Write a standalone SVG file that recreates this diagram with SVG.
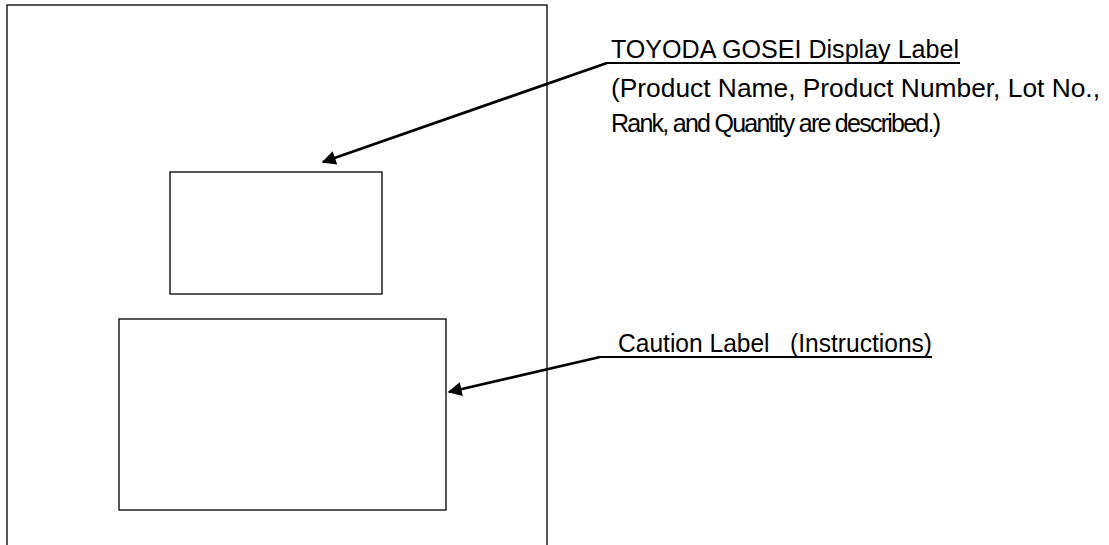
<svg xmlns="http://www.w3.org/2000/svg" width="1109" height="545" viewBox="0 0 1109 545">
<defs>
<style>
.box{fill:#fff;stroke:#111;stroke-width:1.4}
.lbl{font-family:"Liberation Sans",Arial,sans-serif;font-size:26px;fill:#000}
.lead{stroke:#000;stroke-width:2.2;fill:none}
.arr{stroke:#000;stroke-width:2.8;fill:none;marker-end:url(#ah)}
</style>
<marker id="ah" viewBox="0 0 10 10" refX="9" refY="5" markerWidth="6.5" markerHeight="5" markerUnits="strokeWidth" orient="auto">
<path d="M0,0 L10,5 L0,10 z" fill="#000"/>
</marker>
</defs>
<rect width="1109" height="545" fill="#fff"/>
<g id="package"><rect class="box" x="7" y="5" width="540" height="560"/></g>
<g id="display-label-box"><rect class="box" x="170" y="172" width="212" height="122"/></g>
<g id="caution-label-box"><rect class="box" x="119" y="319" width="327" height="191"/></g>
<g id="display-label-text">
<text class="lbl" x="611" y="58" textLength="348" lengthAdjust="spacingAndGlyphs">TOYODA GOSEI Display Label</text>
<text class="lbl" x="611" y="97" textLength="489" lengthAdjust="spacingAndGlyphs">(Product Name, Product Number, Lot No.,</text>
<text class="lbl" x="611" y="132" style="font-size:25px" textLength="330" lengthAdjust="spacing">Rank, and Quantity are described.)</text>
</g>
<g id="caution-label-text">
<text class="lbl" x="618" y="352" textLength="314" lengthAdjust="spacingAndGlyphs" xml:space="preserve">Caution Label   (Instructions)</text>
</g>
<g id="connectors">
<line class="lead" x1="606" y1="63" x2="960" y2="63"/>
<line class="lead" x1="599" y1="357" x2="932" y2="357"/>
<line class="arr" x1="607" y1="63" x2="323" y2="162"/>
<line class="arr" x1="600" y1="357" x2="449" y2="392"/>
</g>
</svg>
